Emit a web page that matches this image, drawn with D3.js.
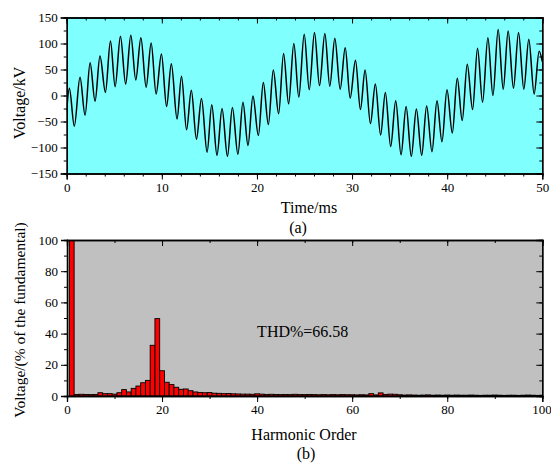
<!DOCTYPE html>
<html>
<head>
<meta charset="utf-8">
<script src="https://cdn.jsdelivr.net/npm/d3@7"></script>
<style>
    body { margin: 0; background: white; }
    svg { display: block; }
</style>
</head>
<body>
<svg id="chart" width="551" height="467"></svg>
<script>
// (a) waveform - peaks and troughs, time in ms, voltage in kV
const waveTime = [
    0, 0.28, 0.80, 1.40, 1.93, 2.46, 2.98, 3.50, 4.07, 4.60,
    5.09, 5.65, 6.20, 6.74, 7.26, 7.80, 8.35, 8.88, 9.40, 9.96,
    10.50, 11.00, 11.60, 12.07, 12.60, 13.10, 13.64, 14.17, 14.76, 15.25,
    15.80, 16.33, 16.90, 17.42, 18.00, 18.53, 19.06, 19.58, 20.15, 20.67,
    21.20, 21.72, 22.28, 22.80, 23.33, 23.88, 24.40, 24.97, 25.50, 26.05,
    26.58, 27.14, 27.66, 28.19, 28.75, 29.28, 29.80, 30.36, 30.88, 31.37,
    31.93, 32.45, 33.00, 33.50, 34.06, 34.59, 35.15, 35.68, 36.23, 36.76,
    37.32, 37.84, 38.40, 38.93, 39.45, 39.98, 40.54, 41.06, 41.58, 42.11,
    42.67, 43.19, 43.72, 44.28, 44.81, 45.36, 45.89, 46.41, 46.97, 47.50,
    48.06, 48.58, 49.14, 49.67, 50.00
]
const waveKV = [
    -30, 14, -59, 35, -38, 63, -11, 76, 6, 105,
    17, 114, 22, 116, 30, 111, 16, 101, 3, 80,
    -21, 61, -45, 37, -66, 10, -84, -6, -109, -18,
    -115, -25, -117, -23, -113, -13, -96, -1, -77, 25,
    -56, 49, -35, 81, -16, 100, -3, 118, 11, 121,
    19, 119, 18, 110, 12, 92, -5, 68, -27, 49,
    -54, 22, -76, 6, -98, -10, -114, -21, -117, -26,
    -115, -20, -108, -10, -89, 11, -72, 33, -48, 60,
    -27, 91, -13, 111, 0, 127, 12, 124, 14, 121,
    12, 108, 3, 85, 65
]

// (b) spectrum - harmonic order 1..100, % of fundamental
const harmonicOrder = d3.range(1, 101)
const harmonicPct = [
    100, 1.0, 1.1, 1.0, 0.9, 1.0, 2.1, 1.5, 1.5, 1.2,
    2.1, 4.1, 2.6, 4.9, 6.4, 8.5, 10.0, 32.5, 49.6, 16.2,
    8.8, 7.3, 5.6, 4.3, 4.5, 3.4, 2.6, 2.3, 2.1, 2.2,
    1.8, 1.7, 1.5, 1.6, 1.4, 1.3, 1.2, 1.2, 1.1, 1.4,
    1.2, 1.0, 1.1, 1.0, 0.9, 1.0, 0.9, 1.1, 0.9, 0.9,
    1.0, 0.9, 0.8, 0.9, 0.8, 0.9, 0.8, 0.9, 0.8, 0.8,
    0.7, 0.8, 0.7, 1.5, 0.7, 2.0, 1.0, 1.2, 1.1, 0.8,
    0.6, 0.7, 0.6, 0.5, 0.6, 0.7, 0.5, 0.6, 0.5, 0.6,
    0.5, 0.6, 0.5, 0.5, 0.6, 0.5, 0.4, 0.5, 0.5, 0.6,
    0.5, 0.4, 0.5, 0.5, 0.4, 0.5, 0.6, 0.5, 0.4, 0.5
]
const thdText = "THD%=66.58"

const timeTicks = [0, 10, 20, 30, 40, 50]
const kvTicks = [-150, -100, -50, 0, 50, 100, 150]
const orderTicks = [0, 20, 40, 60, 80, 100]
const pctTicks = [0, 20, 40, 60, 80, 100]

const fontFam = "Liberation Serif, Times New Roman, serif"
const svg = d3.select("#chart")

// panel boxes
const boxA = {left: 66.7, right: 542.3, top: 17.5, bottom: 173.5}
const boxB = {left: 67, right: 542.3, top: 240, bottom: 396}

const xA = d3.scaleLinear().domain([0, 50]).range([boxA.left, boxA.right])
const yA = d3.scaleLinear().domain([-150, 150]).range([boxA.bottom, boxA.top])
const xB = d3.scaleLinear().domain([0, 100]).range([boxB.left, boxB.right])
const yB = d3.scaleLinear().domain([0, 100]).range([boxB.bottom, boxB.top])

function drawFrame(box, fill, clipId) {
    svg.append("rect")
        .attr("x", box.left)
        .attr("y", box.top)
        .attr("width", box.right - box.left)
        .attr("height", box.bottom - box.top)
        .attr("fill", fill)
    svg.append("clipPath")
        .attr("id", clipId)
        .append("rect")
        .attr("x", box.left)
        .attr("y", box.top)
        .attr("width", box.right - box.left)
        .attr("height", box.bottom - box.top)
}

function drawAxes(box, xs, ys, xMajor, xMinorStep, yMajor, yMinorStep) {
    const g = svg.append("g")
    const xMinor = d3.range(xs.domain()[0], xs.domain()[1] + 1e-9, xMinorStep)
    const yMinor = d3.range(ys.domain()[0], ys.domain()[1] + 1e-9, yMinorStep)

    // bottom: labelled major ticks pointing out, minor shorter
    g.append("g")
        .attr("transform", `translate(0,${box.bottom})`)
        .call(d3.axisBottom(xs).tickValues(xMinor).tickSize(3).tickFormat(""))
    const xLab = g.append("g")
        .attr("transform", `translate(0,${box.bottom})`)
        .call(d3.axisBottom(xs).tickValues(xMajor).tickSize(6).tickPadding(3))
    // left
    g.append("g")
        .attr("transform", `translate(${box.left},0)`)
        .call(d3.axisLeft(ys).tickValues(yMinor).tickSize(3).tickFormat(""))
    g.append("g")
        .attr("transform", `translate(${box.left},0)`)
        .call(d3.axisLeft(ys).tickValues(yMajor).tickSize(6).tickPadding(3))
    // top & right mirror ticks, pointing in
    g.append("g")
        .attr("transform", `translate(0,${box.top})`)
        .call(d3.axisTop(xs).tickValues(xMinor).tickSize(-3).tickFormat(""))
    g.append("g")
        .attr("transform", `translate(0,${box.top})`)
        .call(d3.axisTop(xs).tickValues(xMajor).tickSize(-6).tickFormat(""))
    g.append("g")
        .attr("transform", `translate(${box.right},0)`)
        .call(d3.axisRight(ys).tickValues(yMinor).tickSize(-3).tickFormat(""))
    g.append("g")
        .attr("transform", `translate(${box.right},0)`)
        .call(d3.axisRight(ys).tickValues(yMajor).tickSize(-6).tickFormat(""))

    g.selectAll(".domain").attr("stroke", "black").attr("stroke-width", 1.3)
    g.selectAll(".tick line").attr("stroke", "black").attr("stroke-width", 1)
    g.selectAll("g").attr("font-family", fontFam)
    g.selectAll("text")
        .attr("font-family", fontFam)
        .attr("font-size", "13px")
        .attr("fill", "black")
    // last x label sits on the page edge, nudge it in a bit
    xLab.selectAll(".tick text")
        .filter(d => d === xMajor[xMajor.length - 1] && d >= 100)
        .attr("text-anchor", "end")
        .attr("dx", "9px")
}

// ---- (a) waveform panel
drawFrame(boxA, "#80ffff", "clipA")

const waveData = waveTime.map((t, i) => ({t: t, v: waveKV[i]}))
const waveLine = d3.line()
    .x(d => xA(d.t))
    .y(d => yA(d.v))
    .curve(d3.curveMonotoneX)

svg.append("path")
    .datum(waveData)
    .attr("clip-path", "url(#clipA)")
    .attr("fill", "none")
    .attr("stroke", "black")
    .attr("stroke-width", 1.5)
    .attr("stroke-linejoin", "round")
    .attr("d", waveLine)

drawAxes(boxA, xA, yA, timeTicks, 2, kvTicks, 25)

// ---- (b) spectrum panel
drawFrame(boxB, "#c0c0c0", "clipB")

svg.append("g")
    .attr("clip-path", "url(#clipB)")
    .selectAll("rect")
    .data(harmonicOrder)
    .enter()
    .append("rect")
    .attr("x", (d, i) => xB(d - 0.5))
    .attr("y", (d, i) => yB(harmonicPct[i]))
    .attr("width", xB(1) - xB(0))
    .attr("height", (d, i) => yB(0) - yB(harmonicPct[i]))
    .attr("fill", "#ff0000")
    .attr("stroke", "black")
    .attr("stroke-width", 0.9)

drawAxes(boxB, xB, yB, orderTicks, 10, pctTicks, 10)

svg.append("text")
    .attr("x", xB(40))
    .attr("y", yB(38))
    .attr("font-family", fontFam)
    .attr("font-size", "16px")
    .attr("fill", "black")
    .text(thdText)

// ---- titles
const titles = [
    {text: "Voltage/kV", x: 19, y: 103, rot: true},
    {text: "Time/ms", x: 309, y: 213, rot: false},
    {text: "(a)", x: 298, y: 233, rot: false},
    {text: "Voltage/(% of the fundamental)", x: 20, y: 320, rot: true, size: 15.5},
    {text: "Harmonic Order", x: 304, y: 440, rot: false},
    {text: "(b)", x: 306, y: 459, rot: false}
]
svg.selectAll("text.title")
    .data(titles)
    .enter()
    .append("text")
    .attr("class", "title")
    .attr("transform", d => d.rot ? `translate(${d.x},${d.y}) rotate(-90)` : `translate(${d.x},${d.y})`)
    .attr("dy", d => d.rot ? "0.35em" : 0)
    .attr("text-anchor", "middle")
    .attr("font-family", fontFam)
    .attr("font-size", d => `${d.size || 16}px`)
    .attr("fill", "black")
    .text(d => d.text)
</script>
</body>
</html>
